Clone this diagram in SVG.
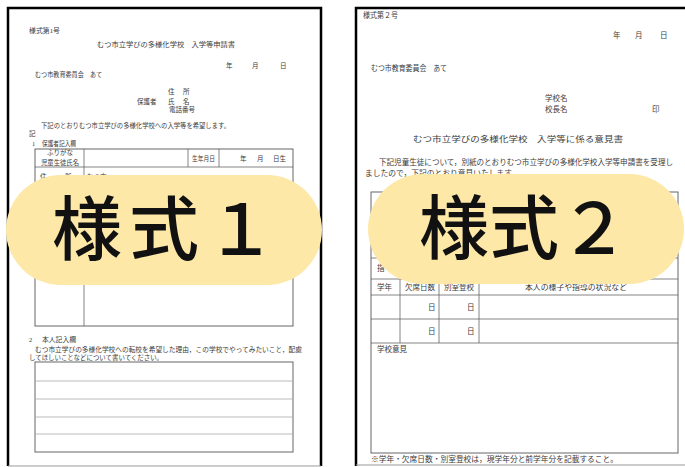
<svg xmlns="http://www.w3.org/2000/svg" width="685" height="467" viewBox="0 0 685 467">
<style>
.t{font-family:"Liberation Serif","Noto Sans CJK JP",serif;fill:#3a3a3a;font-size:6.5px}
.t2{font-family:"Liberation Serif","Noto Sans CJK JP",serif;fill:#3a3a3a;font-size:7.5px}
.tb{fill:none;stroke:#666;stroke-width:1}
.tl{stroke:#666;stroke-width:0.8}
.tl2{stroke:#aaa;stroke-width:0.8}
.pill{fill:#FDE8A8}
.big{font-family:"Noto Sans CJK JP","Noto Sans",sans-serif;font-size:70px;font-weight:500;fill:#111}
</style>
<rect width="685" height="467" fill="#fff"/>

<g id="doc1">
  <path d="M8 466 V8 H321 V466" fill="none" stroke="#000" stroke-width="2.5"/>
  <line x1="8" y1="466" x2="321" y2="466" stroke="#999" stroke-width="1"/>
  <text class="t" x="29" y="33" textLength="31" lengthAdjust="spacingAndGlyphs">様式第1号</text>
  <text class="t" x="97" y="47" font-size="7.5" textLength="138" lengthAdjust="spacingAndGlyphs">むつ市立学びの多様化学校　入学等申請書</text>
  <text class="t" x="226" y="68">年</text>
  <text class="t" x="252" y="68">月</text>
  <text class="t" x="280" y="68">日</text>
  <text class="t" x="35" y="77" textLength="67" lengthAdjust="spacingAndGlyphs">むつ市教育委員会　あて</text>
  <text class="t" x="168" y="94">住</text>
  <text class="t" x="183" y="94">所</text>
  <text class="t" x="137" y="104">保護者</text>
  <text class="t" x="168" y="104">氏</text>
  <text class="t" x="183" y="104">名</text>
  <text class="t" x="169" y="112" textLength="26" lengthAdjust="spacingAndGlyphs">電話番号</text>
  <text class="t" x="41" y="128" textLength="189" lengthAdjust="spacingAndGlyphs">下記のとおりむつ市立学びの多様化学校への入学等を希望します。</text>
  <text class="t" x="29" y="136">記</text>
  <text class="t" x="32" y="146">1</text>
  <text class="t" x="42" y="146" textLength="34" lengthAdjust="spacingAndGlyphs">保護者記入欄</text>
  <rect class="tb" x="35" y="149" width="258" height="177"/>
  <line class="tl" x1="35" y1="167" x2="293" y2="167"/>
  <line class="tl" x1="84" y1="149" x2="84" y2="326"/>
  <line class="tl" x1="188" y1="149" x2="188" y2="167"/>
  <line class="tl" x1="219" y1="149" x2="219" y2="167"/>
  <text class="t" x="47" y="155" font-size="4.5" textLength="26" lengthAdjust="spacing">ふりがな</text>
  <text class="t" x="41" y="165" textLength="38" lengthAdjust="spacingAndGlyphs">児童生徒氏名</text>
  <text class="t" x="192" y="161" textLength="23" lengthAdjust="spacingAndGlyphs">生年月日</text>
  <text class="t" x="240" y="161">年</text>
  <text class="t" x="257" y="161">月</text>
  <text class="t" x="273" y="161">日生</text>
  <text class="t" x="40" y="179">住</text>
  <text class="t" x="65" y="179">所</text>
  <text class="t" x="87" y="179">むつ市</text>
  <text class="t" x="29" y="342">2</text>
  <text class="t" x="42" y="342" textLength="34" lengthAdjust="spacingAndGlyphs">本人記入欄</text>
  <text class="t" x="35" y="352" textLength="267" lengthAdjust="spacingAndGlyphs">むつ市立学びの多様化学校への転校を希望した理由，この学校でやってみたいこと，配慮</text>
  <text class="t" x="29" y="360" textLength="134" lengthAdjust="spacingAndGlyphs">してほしいことなどについて書いてください。</text>
  <rect class="tb" x="35" y="362" width="258" height="90"/>
  <line class="tl2" x1="35" y1="381" x2="293" y2="381"/>
  <line class="tl2" x1="35" y1="399" x2="293" y2="399"/>
  <line class="tl2" x1="35" y1="417" x2="293" y2="417"/>
  <line class="tl2" x1="35" y1="434" x2="293" y2="434"/>
</g>

<g id="doc2">
  <path d="M356 466 V8 H686" fill="none" stroke="#000" stroke-width="2.5"/>
  <line x1="356" y1="465" x2="685" y2="465" stroke="#999" stroke-width="1"/>
  <text class="t2" x="363" y="18" textLength="35" lengthAdjust="spacingAndGlyphs">様式第２号</text>
  <text class="t2" x="613" y="38">年</text>
  <text class="t2" x="635" y="38">月</text>
  <text class="t2" x="660" y="38">日</text>
  <text class="t2" x="371" y="71" textLength="76" lengthAdjust="spacingAndGlyphs">むつ市教育委員会　あて</text>
  <text class="t2" x="545" y="101">学校名</text>
  <text class="t2" x="545" y="112">校長名</text>
  <text class="t2" x="652" y="112">印</text>
  <text class="t2" x="413" y="142" font-size="9.5" textLength="210" lengthAdjust="spacingAndGlyphs">むつ市立学びの多様化学校　入学等に係る意見書</text>
  <text class="t2" x="379" y="165" textLength="294" lengthAdjust="spacingAndGlyphs">下記児童生徒について，別紙のとおりむつ市立学びの多様化学校入学等申請書を受理し</text>
  <text class="t2" x="365" y="176" textLength="154" lengthAdjust="spacingAndGlyphs">ましたので，下記のとおり意見いたします。</text>
  <rect class="tb" x="371" y="192" width="307" height="261"/>
  <line class="tl" x1="371" y1="258" x2="678" y2="258"/>
  <line class="tl" x1="371" y1="279" x2="678" y2="279"/>
  <line class="tl" x1="371" y1="295" x2="678" y2="295"/>
  <line class="tl" x1="371" y1="319" x2="678" y2="319"/>
  <line class="tl" x1="371" y1="343" x2="678" y2="343"/>
  <line class="tl" x1="400" y1="279" x2="400" y2="343"/>
  <line class="tl" x1="439" y1="279" x2="439" y2="343"/>
  <line class="tl" x1="479" y1="279" x2="479" y2="343"/>
  <text class="t2" x="377" y="271">指</text>
  <text class="t2" x="377" y="290">学年</text>
  <text class="t2" x="405" y="290" textLength="30" lengthAdjust="spacingAndGlyphs">欠席日数</text>
  <text class="t2" x="444" y="290" textLength="30" lengthAdjust="spacingAndGlyphs">別室登校</text>
  <text class="t2" x="525" y="290" textLength="102" lengthAdjust="spacingAndGlyphs">本人の様子や指導の状況など</text>
  <text class="t2" x="428" y="310">日</text>
  <text class="t2" x="467" y="310">日</text>
  <text class="t2" x="428" y="334">日</text>
  <text class="t2" x="467" y="334">日</text>
  <text class="t2" x="377" y="352">学校意見</text>
  <text class="t2" x="371" y="462" textLength="247" lengthAdjust="spacingAndGlyphs">※学年・欠席日数・別室登校は，現学年分と前学年分を記載すること。</text>
</g>

<g id="label1">
  <rect class="pill" x="6" y="175" width="316" height="110" rx="55"/>
  <text class="big" x="52" y="255" letter-spacing="7">様式１</text>
</g>

<g id="label2">
  <rect class="pill" x="368" y="174" width="316" height="110" rx="55"/>
  <text class="big" x="419" y="254">様式２</text>
</g>
</svg>
